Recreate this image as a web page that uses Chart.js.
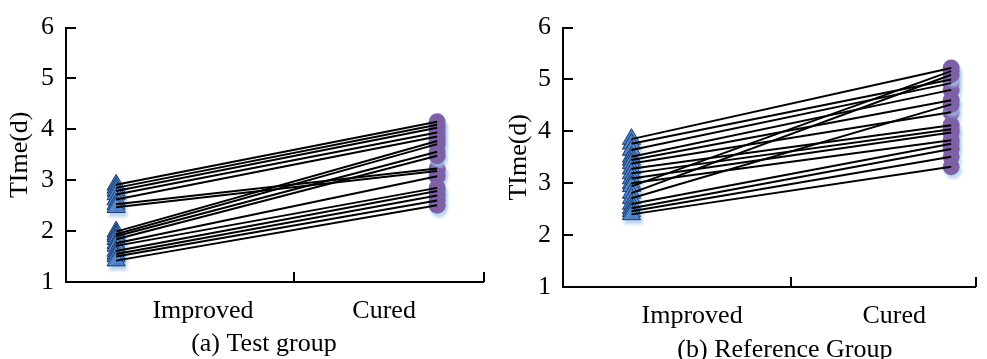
<!DOCTYPE html>
<html>
<head>
<meta charset="utf-8">
<script src="https://cdn.jsdelivr.net/npm/chart.js@4.4.0/dist/chart.umd.min.js"></script>
<style>
  html, body { margin: 0; padding: 0; background: #fff; }
  #wrap { position: relative; width: 987px; height: 359px; overflow: hidden; }
  canvas { position: absolute; top: 0; }
  #testChart { left: 0; }
  #refChart { left: 495px; }
</style>
</head>
<body>
<div id="wrap">
  <canvas id="testChart" width="495" height="359"></canvas>
  <canvas id="refChart" width="492" height="359"></canvas>
</div>
<script>
const categories = ['Improved', 'Cured'];
const yTicks = [1, 2, 3, 4, 5, 6];

// time (d) of each patient when improved / when cured, same order
const testImproved = [2.91, 2.85, 2.79, 2.72, 2.62, 2.53, 2.47, 1.99, 1.94, 1.90, 1.84, 1.76, 1.71, 1.61, 1.55, 1.50, 1.42];
const testCured    = [4.15, 4.09, 4.03, 3.94, 3.86, 3.23, 3.18, 3.77, 3.71, 3.56, 3.48, 3.08, 2.85, 2.79, 2.70, 2.60, 2.51];
const refImproved  = [3.85, 3.76, 3.64, 3.51, 3.45, 3.38, 3.28, 3.19, 3.09, 3.00, 2.94, 2.81, 2.71, 2.60, 2.52, 2.46, 2.40];
const refCured     = [5.22, 5.00, 4.93, 4.80, 4.60, 4.37, 4.12, 4.04, 3.98, 3.83, 5.16, 5.09, 4.52, 3.76, 3.66, 3.51, 3.32];

const FONT = '"Liberation Serif", "Times New Roman", serif';

// inner tick marks + caption under the panel
const axisMarks = {
    id: 'axisMarks',
    afterDraw(chart, args, opts) {
        const { ctx, chartArea: a, scales: { x, y } } = chart;
        ctx.save();
        ctx.strokeStyle = '#000';
        ctx.lineWidth = 2;
        ctx.beginPath();
        yTicks.forEach(v => {
            const py = Math.round(y.getPixelForValue(v));
            ctx.moveTo(a.left, py);
            ctx.lineTo(a.left + 10, py);
        });
        opts.xTicks.forEach(v => {
            const px = Math.round(x.getPixelForValue(v));
            ctx.moveTo(px, a.bottom);
            ctx.lineTo(px, a.bottom - 10);
        });
        ctx.stroke();
        ctx.fillStyle = '#000';
        ctx.font = '26px ' + FONT;
        ctx.textAlign = 'center';
        ctx.textBaseline = 'middle';
        ctx.fillText(opts.caption, x.getPixelForValue(opts.captionX), opts.captionY);
        ctx.restore();
    }
};

// light blue drop shadow under the markers
const markerShadow = {
    id: 'markerShadow',
    beforeDatasetDraw(chart, args) {
        if (!chart.data.datasets[args.index].shadow) return;
        const ctx = chart.ctx;
        ctx.save();
        ctx.shadowColor = 'rgba(165, 200, 238, 0.7)';
        ctx.shadowOffsetX = 2;
        ctx.shadowOffsetY = 4;
        ctx.shadowBlur = 3;
    },
    afterDatasetDraw(chart, args) {
        if (!chart.data.datasets[args.index].shadow) return;
        chart.ctx.restore();
    }
};

function makeChart(id, improved, cured, cfg) {
    const canvas = document.getElementById(id);
    const H = canvas.height;

    const lines = improved.map((v, i) => ({
        data: [{ x: cfg.xImp, y: v }, { x: cfg.xCur, y: cured[i] }],
        showLine: true,
        borderColor: '#000',
        borderWidth: 2,
        pointRadius: 0,
        order: 0,
        clip: false
    }));

    const triangles = {
        data: improved.map(v => ({ x: cfg.xImp, y: v })),
        pointStyle: 'triangle',
        pointRadius: 10.5,
        backgroundColor: '#4a7ec8',
        borderColor: '#1d3c6e',
        borderWidth: 1,
        shadow: true,
        order: 2,
        clip: false
    };

    const circles = {
        data: cured.map(v => ({ x: cfg.xCur, y: v })),
        pointStyle: 'circle',
        pointRadius: 8.5,
        backgroundColor: '#7d60a6',
        borderWidth: 0,
        shadow: true,
        order: 1,
        clip: false
    };

    return new Chart(canvas, {
        type: 'scatter',
        data: { datasets: [...lines, triangles, circles] },
        options: {
            responsive: false,
            animation: false,
            layout: { padding: { top: cfg.top, right: cfg.padRight, left: 0, bottom: 0 } },
            plugins: {
                legend: { display: false },
                tooltip: { enabled: false },
                axisMarks: {
                    xTicks: [cfg.midTick, 1],
                    caption: cfg.caption,
                    captionX: cfg.captionX,
                    captionY: cfg.captionY
                }
            },
            scales: {
                x: {
                    type: 'linear',
                    min: 0,
                    max: 1,
                    afterBuildTicks: scale => {
                        scale.ticks = [{ value: cfg.labImp }, { value: cfg.labCur }];
                    },
                    afterFit: scale => { scale.height = H - cfg.bottom; },
                    ticks: {
                        autoSkip: false,
                        maxRotation: 0,
                        padding: 14,
                        color: '#000',
                        font: { family: FONT, size: 26 },
                        callback: (v, i) => categories[i]
                    },
                    grid: { display: false, drawTicks: false },
                    border: { display: true, color: '#000', width: 2 }
                },
                y: {
                    min: 1,
                    max: 6,
                    afterBuildTicks: scale => {
                        scale.ticks = yTicks.map(v => ({ value: v }));
                    },
                    afterFit: scale => { scale.width = cfg.left; },
                    ticks: {
                        padding: 12,
                        color: '#000',
                        font: { family: FONT, size: 26 }
                    },
                    grid: { display: false, drawTicks: false },
                    border: { display: true, color: '#000', width: 2 },
                    title: {
                        display: true,
                        text: 'TIme(d)',
                        color: '#000',
                        font: { family: FONT, size: 26 },
                        padding: { top: cfg.titlePad, bottom: 0 }
                    }
                }
            }
        },
        plugins: [axisMarks, markerShadow]
    });
}

makeChart('testChart', testImproved, testCured, {
    left: 66, top: 20, bottom: 282, padRight: 5,
    xImp: 0.12, xCur: 0.889, labImp: 0.328, labCur: 0.762, midTick: 0.547,
    caption: '(a) Test group', captionX: 0.474, captionY: 344, titlePad: 5
});

makeChart('refChart', refImproved, refCured, {
    left: 68, top: 24, bottom: 287, padRight: 2,
    xImp: 0.166, xCur: 0.941, labImp: 0.313, labCur: 0.803, midTick: 0.552,
    caption: '(b) Reference Group', captionX: 0.538, captionY: 350, titlePad: 9
});
</script>
</body>
</html>
